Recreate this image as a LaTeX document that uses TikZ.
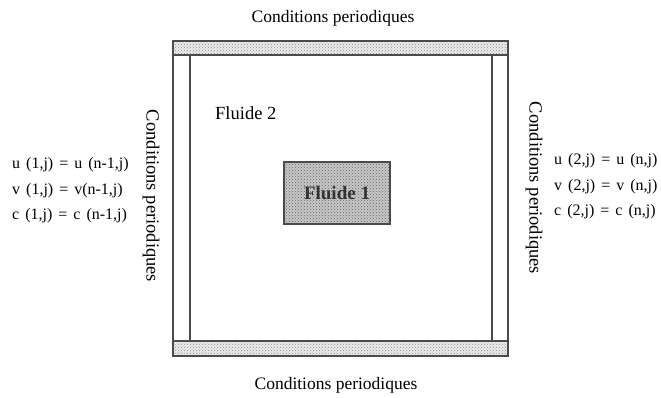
\documentclass[tikz,border=0pt]{standalone}
\usepackage{fontspec}
\setmainfont{Liberation Serif}
\newfontfamily\eqfont[WordSpace=1.5]{Liberation Serif}
\usepackage{tikz}
\usetikzlibrary{patterns}
\definecolor{edgegray}{HTML}{4A4A4A}

\begin{document}
\begin{tikzpicture}[x=1pt, y=-1pt,
    wall/.style={draw=edgegray, line width=1.3pt},
    band/.style={pattern=crosshatch dots, pattern color=black!45},
    lbl/.style={font=\fontsize{17.5}{20}\selectfont, inner sep=0pt},
    sidelbl/.style={lbl, rotate=-90, font=\fontsize{18.5}{21}\selectfont},
    eqn/.style={font=\eqfont\fontsize{16}{19}\selectfont, inner sep=0pt, anchor=west}]
  \useasboundingbox (0,0) rectangle (661,397);
  % the side strips (white), between the outer and the inner line
  \draw[wall, fill=white] (173,55) rectangle (190,341);
  \draw[wall, fill=white] (492,55) rectangle (508,341);
  % the periodic bands, top and bottom
  \fill[black!8] (173,41) rectangle (508,55);
  \fill[band] (173,41) rectangle (508,55);
  \draw[wall] (173,41) rectangle (508,55);
  \fill[black!8] (173,341) rectangle (508,356);
  \fill[band] (173,341) rectangle (508,356);
  \draw[wall] (173,341) rectangle (508,356);
  % the drop of fluid 1
  \fill[black!22] (284,162) rectangle (390,224);
  \fill[pattern=crosshatch dots, pattern color=black!60] (284,162) rectangle (390,224);
  \draw[wall] (284,162) rectangle (390,224);
  \node[lbl, font=\fontsize{19}{21}\selectfont\bfseries, text=black!80] (fluide1) at (337,193) {Fluide 1};
  \node[lbl, anchor=west, font=\fontsize{18.5}{21}\selectfont] (fluide2) at (215,113) {Fluide 2};
  % the four labels of the boundary conditions
  \node[lbl] (condtop) at (333,18) {Conditions periodiques};
  \node[lbl] (condbot) at (336,385) {Conditions periodiques};
  \node[sidelbl] (condleft) at (151,196) {Conditions periodiques};
  \node[sidelbl] (condright) at (534,188) {Conditions periodiques};
  % the relations on the left and on the right
  \foreach \y/\tl/\tr [count=\i] in {%
      165/{u (1,j) = u (n-1,j)}/{u (2,j) = u (n,j)},
      191/{v (1,j) = v(n-1,j)}/{v (2,j) = v (n,j)},
      216/{c (1,j) = c (n-1,j)}/{c (2,j) = c (n,j)}}{
    \node[eqn] (eqleft\i) at (12,\y) {\tl};
    \node[eqn] (eqright\i) at (554,\y-4) {\tr};}
\end{tikzpicture}
\end{document}
